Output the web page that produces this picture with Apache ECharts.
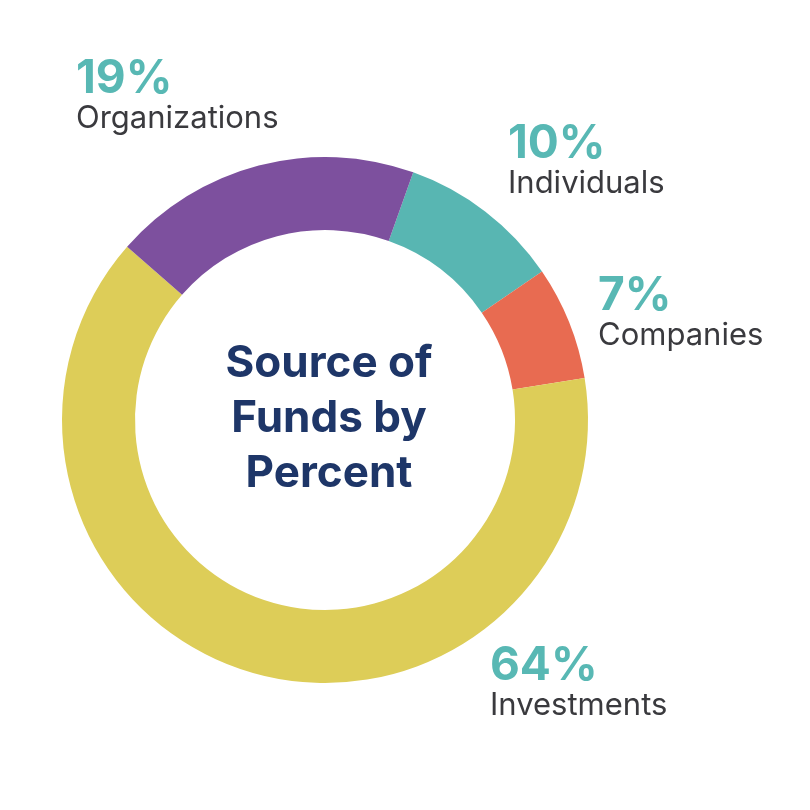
<!DOCTYPE html>
<html>
<head>
<meta charset="utf-8">
<script src="https://cdn.jsdelivr.net/npm/echarts@6/dist/echarts.min.js"></script>
<style>
html,body{margin:0;padding:0;background:#fff;}
#chart{width:810px;height:810px;}
</style>
</head>
<body>
<div id="chart"></div>
<script>
// Data
const categories = ['Individuals', 'Companies', 'Investments', 'Organizations'];
const percents = [10, 7, 64, 19];
const centerTitle = 'Source of\nFunds by\nPercent';

// Styling / layout (not data)
const sliceColors = ['#58b6b2', '#e86b51', '#ddcd58', '#7d509e'];
const labelAnchors = [[508, 123], [598, 275], [490, 645], [76, 58]];

const chart = echarts.init(document.getElementById('chart'), null, {renderer: 'canvas'});
const FONT = 'Inter, "Noto Sans", sans-serif';

chart.setOption({
  animation: false,
  backgroundColor: '#ffffff',
  title: {
    text: centerTitle,
    left: 324,
    top: 331,
    textAlign: 'center',
    textStyle: {
      color: '#1e3668',
      fontFamily: FONT,
      fontWeight: 'bold',
      fontSize: 44,
      lineHeight: 55,
      align: 'center'
    }
  },
  series: [{
    type: 'pie',
    center: [325, 420],
    radius: [190, 263],
    startAngle: 70.4,
    clockwise: true,
    avoidLabelOverlap: false,
    itemStyle: {borderWidth: 0},
    data: categories.map((c, i) => ({
      name: c,
      value: percents[i],
      itemStyle: {color: sliceColors[i]}
    })),
    label: {
      show: true,
      position: 'outside',
      formatter: p => '{p|' + p.value + '%}\n{n|' + p.name + '}',
      rich: {
        p: {fontFamily: FONT, fontWeight: 'bold', fontSize: 46, lineHeight: 43, color: '#58b8b4'},
        n: {fontFamily: FONT, fontSize: 31, lineHeight: 36, color: '#3a3a3e'}
      }
    },
    labelLine: {show: false},
    labelLayout: params => ({
      x: labelAnchors[params.dataIndex][0],
      y: labelAnchors[params.dataIndex][1],
      align: 'left',
      verticalAlign: 'top'
    })
  }]
});
</script>
</body>
</html>
